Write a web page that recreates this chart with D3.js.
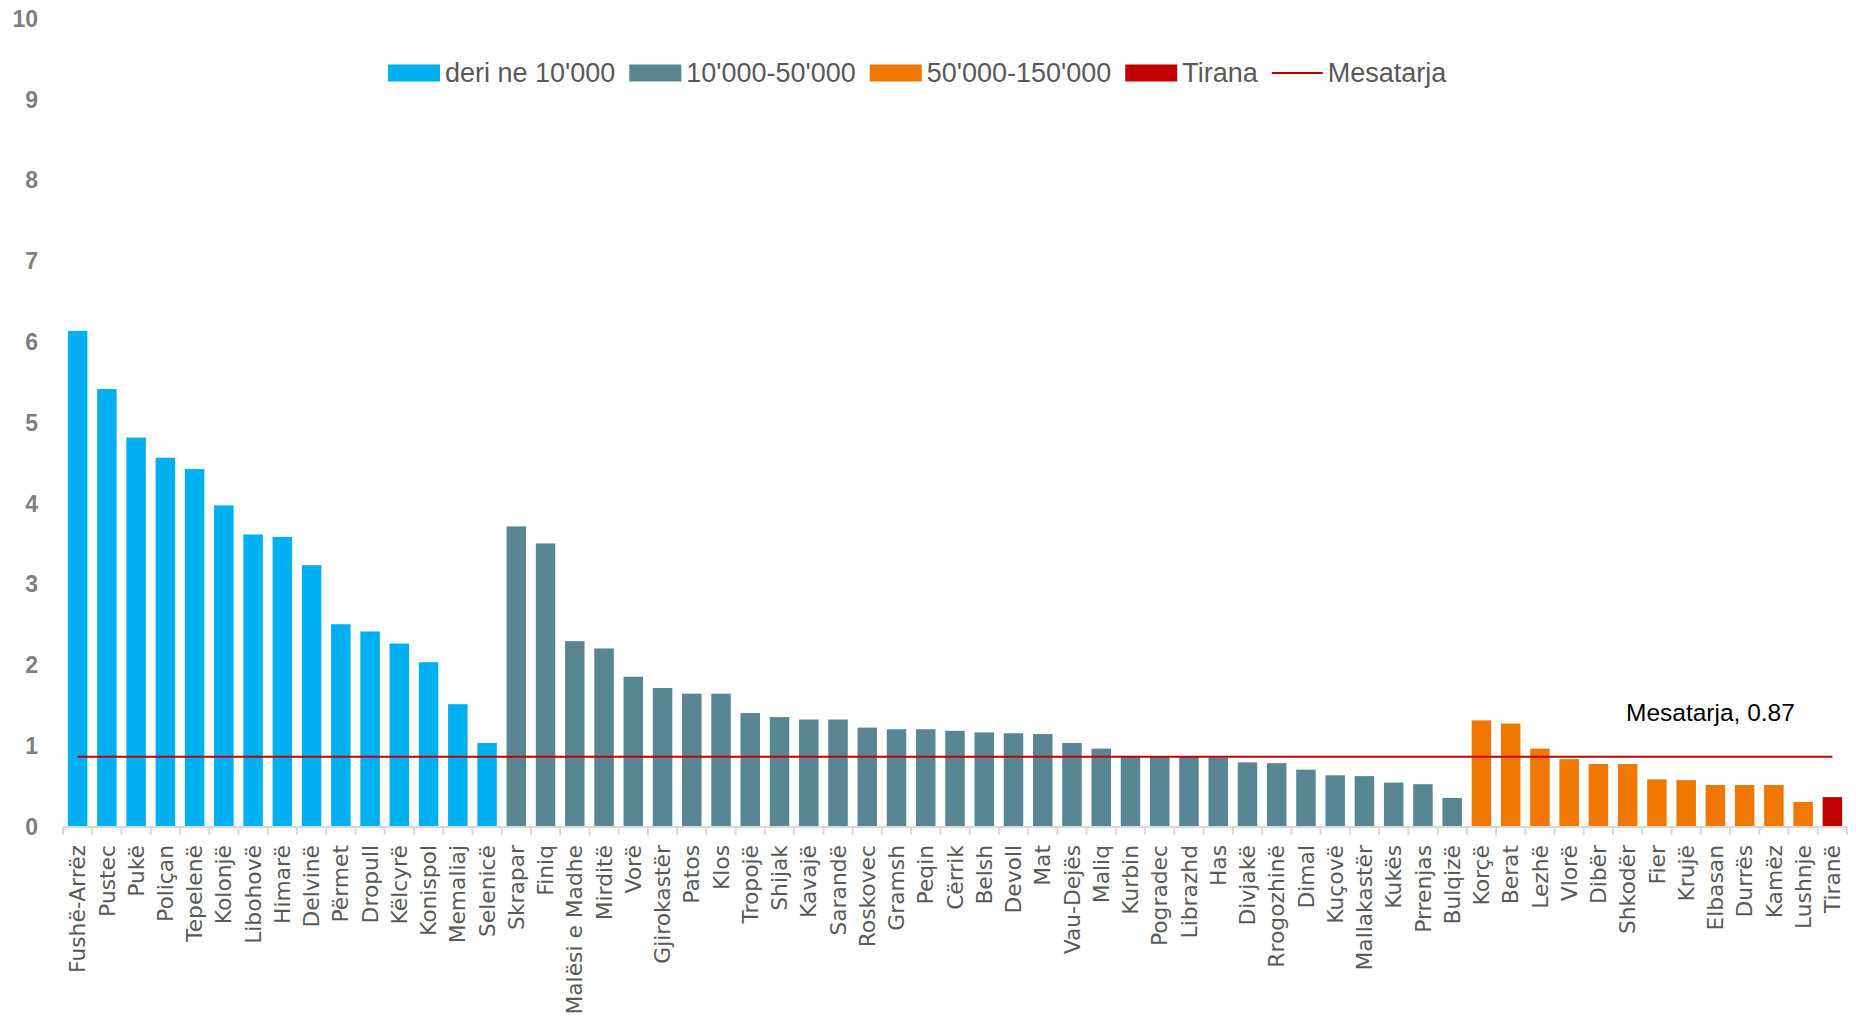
<!DOCTYPE html>
<html>
<head>
<meta charset="utf-8">
<script src="https://cdn.jsdelivr.net/npm/d3@7"></script>
<style>
  body { margin: 0; background: #fff; }
  svg { display: block; }
</style>
</head>
<body>
<div id="chart"></div>
<script>
// municipalities, sorted as in the source figure
const municipalities = [
    "Fushë-Arrëz", "Pustec", "Pukë", "Poliçan", "Tepelenë", "Kolonjë", "Libohovë", "Himarë",
    "Delvinë", "Përmet", "Dropull", "Këlcyrë", "Konispol", "Memaliaj", "Selenicë",
    "Skrapar", "Finiq", "Malësi e Madhe", "Mirditë", "Vorë", "Gjirokastër", "Patos", "Klos",
    "Tropojë", "Shijak", "Kavajë", "Sarandë", "Roskovec", "Gramsh", "Peqin", "Cërrik", "Belsh",
    "Devoll", "Mat", "Vau-Dejës", "Maliq", "Kurbin", "Pogradec", "Librazhd", "Has", "Divjakë",
    "Rrogozhinë", "Dimal", "Kuçovë", "Mallakastër", "Kukës", "Prrenjas", "Bulqizë",
    "Korçë", "Berat", "Lezhë", "Vlorë", "Dibër", "Shkodër", "Fier", "Krujë", "Elbasan",
    "Durrës", "Kamëz", "Lushnje", "Tiranë"
];

// values
const values = [
    6.14, 5.42, 4.82, 4.57, 4.43, 3.98, 3.62, 3.59,
    3.24, 2.51, 2.42, 2.27, 2.04, 1.52, 1.04,
    3.72, 3.51, 2.30, 2.21, 1.86, 1.72, 1.65, 1.65,
    1.41, 1.36, 1.33, 1.33, 1.23, 1.21, 1.21, 1.19, 1.17,
    1.16, 1.15, 1.04, 0.97, 0.88, 0.87, 0.87, 0.86, 0.80,
    0.79, 0.71, 0.64, 0.63, 0.55, 0.53, 0.36,
    1.32, 1.28, 0.97, 0.84, 0.78, 0.78, 0.59, 0.58, 0.52,
    0.52, 0.52, 0.31, 0.37
];

// population class of each municipality (index into groupLabels)
const sizeClass = [
    0, 0, 0, 0, 0, 0, 0, 0, 0, 0, 0, 0, 0, 0, 0,
    1, 1, 1, 1, 1, 1, 1, 1, 1, 1, 1, 1, 1, 1, 1, 1, 1,
    1, 1, 1, 1, 1, 1, 1, 1, 1, 1, 1, 1, 1, 1, 1, 1,
    2, 2, 2, 2, 2, 2, 2, 2, 2, 2, 2, 2,
    3
];

const groupLabels = ["deri ne 10'000", "10'000-50'000", "50'000-150'000", "Tirana"];
const groupColors = ["#00b0f0", "#588793", "#f07800", "#c00000"];

const meanLabel = "Mesatarja";
const meanValue = 0.87;

const yTicks = [0, 1, 2, 3, 4, 5, 6, 7, 8, 9, 10];

const width = 1856, height = 1017,
    margin = {left: 63, top: 19, right: 9, bottom: 190};

const svg = d3.select("#chart")
    .append("svg")
    .attr("width", width)
    .attr("height", height);

const xScale = d3.scaleBand()
    .domain(municipalities)
    .range([margin.left, width - margin.right])
    .paddingInner(0.333)
    .paddingOuter(0.1665);

const yScale = d3.scaleLinear()
    .domain([0, 10])
    .range([height - margin.bottom, margin.top]);

// y axis labels only (no line, no grid)
const yAxis = svg.append("g")
    .attr("transform", `translate(38,0)`)
    .call(d3.axisLeft(yScale).tickValues(yTicks).tickSize(0).tickPadding(0));
yAxis.select(".domain").remove();
yAxis.selectAll("text")
    .attr("fill", "#7f7f7f")
    .style("font-family", "'Liberation Sans', Arial, sans-serif")
    .style("font-size", "23px")
    .style("font-weight", "bold");

// bars
svg.append("g")
    .selectAll("rect")
    .data(municipalities)
    .join("rect")
    .attr("x", d => xScale(d))
    .attr("y", (d, i) => yScale(values[i]))
    .attr("width", xScale.bandwidth())
    .attr("height", (d, i) => yScale(0) - yScale(values[i]))
    .attr("fill", (d, i) => groupColors[sizeClass[i]]);

// x axis: light line with ticks at the category boundaries
const step = xScale.step();
const x0 = xScale.range()[0];
const xAxis = svg.append("g").attr("class", "x-axis");
xAxis.append("line")
    .attr("x1", x0).attr("x2", width - margin.right)
    .attr("y1", yScale(0)).attr("y2", yScale(0))
    .attr("stroke", "#d9d9d9").attr("stroke-width", 2);
xAxis.selectAll(".tick-mark")
    .data(d3.range(municipalities.length + 1))
    .join("line")
    .attr("class", "tick-mark")
    .attr("x1", i => x0 + i * step).attr("x2", i => x0 + i * step)
    .attr("y1", yScale(0)).attr("y2", yScale(0) + 8)
    .attr("stroke", "#d9d9d9").attr("stroke-width", 2);

xAxis.selectAll(".x-label")
    .data(municipalities)
    .join("text")
    .attr("class", "x-label")
    .attr("transform", d => `translate(${xScale(d) + xScale.bandwidth() / 2},${yScale(0) + 18}) rotate(-90)`)
    .attr("dy", "0.35em")
    .attr("text-anchor", "end")
    .attr("fill", "#595959")
    .style("font-family", "'DejaVu Sans', sans-serif")
    .style("font-size", "21.8px")
    .text(d => d);

// average line, from first to last category centre
const first = municipalities[0], last = municipalities[municipalities.length - 1];
const half = xScale.bandwidth() / 2;
svg.append("line")
    .attr("x1", xScale(first) + half)
    .attr("x2", xScale(last) + half)
    .attr("y1", yScale(meanValue))
    .attr("y2", yScale(meanValue))
    .attr("stroke", "#c00000")
    .attr("stroke-width", 2);

svg.append("text")
    .attr("x", 1626)
    .attr("y", yScale(meanValue) - 36)
    .attr("fill", "#000")
    .style("font-family", "'Liberation Sans', Arial, sans-serif")
    .style("font-size", "24.5px")
    .text(`${meanLabel}, ${meanValue}`);

// legend
const legend = svg.append("g").attr("transform", "translate(388,73)");
let lx = 0;
groupLabels.forEach((label, i) => {
    legend.append("rect")
        .attr("x", lx).attr("y", -8.5)
        .attr("width", 52).attr("height", 17)
        .attr("fill", groupColors[i]);
    const t = legend.append("text")
        .attr("x", lx + 57).attr("dy", "0.35em")
        .attr("fill", "#595959")
        .style("font-family", "'Liberation Sans', Arial, sans-serif")
        .style("font-size", "27px")
        .text(label);
    lx += 57 + t.node().getComputedTextLength() + 14;
});
legend.append("line")
    .attr("x1", lx).attr("x2", lx + 51)
    .attr("y1", 0).attr("y2", 0)
    .attr("stroke", "#c00000").attr("stroke-width", 2);
legend.append("text")
    .attr("x", lx + 56).attr("dy", "0.35em")
    .attr("fill", "#595959")
    .style("font-family", "'Liberation Sans', Arial, sans-serif")
    .style("font-size", "27px")
    .text(meanLabel);
</script>
</body>
</html>
